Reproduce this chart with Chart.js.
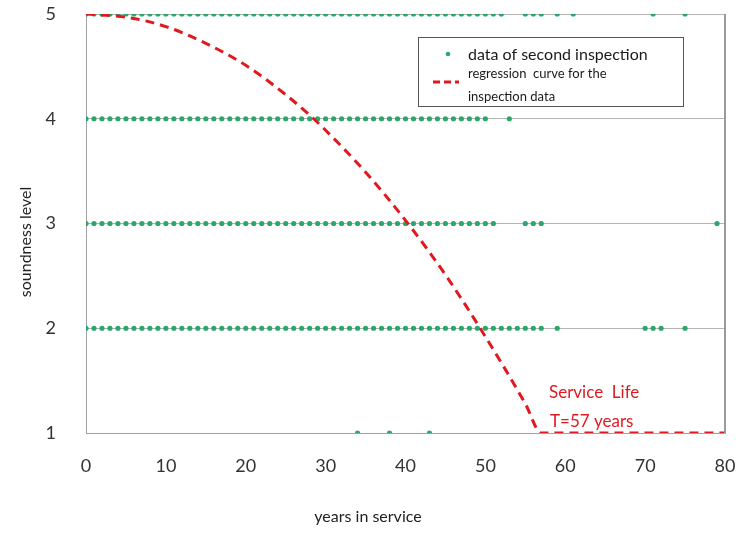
<!DOCTYPE html>
<html>
<head>
<meta charset="utf-8">
<script src="https://cdn.jsdelivr.net/npm/chart.js@4"></script>
<style>
  body { margin: 0; background: #fff; }
  #wrap { width: 741px; height: 533px; }
</style>
</head>
<body>
<div id="wrap"><canvas id="myChart"></canvas></div>
<script>
// years in service of every inspected item, grouped by soundness level
var level5Years = [0,1,2,3,4,5,6,7,8,9,10,11,12,13,14,15,16,17,18,19,20,21,22,23,24,25,26,27,28,29,30,31,32,33,34,35,36,37,38,39,40,41,42,43,44,45,46,47,48,49,50,51,52,55,56,57,59,61,71,75];
var level4Years = [0,1,2,3,4,5,6,7,8,9,10,11,12,13,14,15,16,17,18,19,20,21,22,23,24,25,26,27,28,29,30,31,32,33,34,35,36,37,38,39,40,41,42,43,44,45,46,47,48,49,50,53];
var level3Years = [0,1,2,3,4,5,6,7,8,9,10,11,12,13,14,15,16,17,18,19,20,21,22,23,24,25,26,27,28,29,30,31,32,33,34,35,36,37,38,39,40,41,42,43,44,45,46,47,48,49,50,51,55,56,57,79];
var level2Years = [0,1,2,3,4,5,6,7,8,9,10,11,12,13,14,15,16,17,18,19,20,21,22,23,24,25,26,27,28,29,30,31,32,33,34,35,36,37,38,39,40,41,42,43,44,45,46,47,48,49,50,51,52,53,54,55,56,57,59,70,71,72,75];
var level1Years = [34,38,43];

// regression curve
var curveYears = [0,5,10,15,20,25,28.5,30,35,40,45,50,55,57,60,70,80];
var curveLevels = [5,4.97,4.88,4.72,4.51,4.23,4,3.89,3.49,3.03,2.51,1.92,1.28,1,1,1,1];

var xTicks = [0,10,20,30,40,50,60,70,80];
var yTicks = [1,2,3,4,5];

var points = [];
[[5, level5Years], [4, level4Years], [3, level3Years], [2, level2Years], [1, level1Years]].forEach(function (g) {
  g[1].forEach(function (yr) { points.push({ x: yr, y: g[0] }); });
});
var curve = curveYears.map(function (yr, i) { return { x: yr, y: curveLevels[i] }; });

var font = 'Lato, "Open Sans", sans-serif';

var extras = {
  id: 'extras',
  afterDraw: function (chart) {
    var ctx = chart.ctx, a = chart.chartArea;
    ctx.save();
    // right border
    ctx.strokeStyle = '#9a9a9a';
    ctx.lineWidth = 2;
    ctx.beginPath();
    ctx.moveTo(a.right, a.top);
    ctx.lineTo(a.right, a.bottom);
    ctx.stroke();

    // axis titles
    ctx.fillStyle = '#222';
    ctx.font = '16px ' + font;
    ctx.textAlign = 'center';
    ctx.textBaseline = 'middle';
    ctx.fillText('years in service', 368, 517);
    ctx.save();
    ctx.translate(26, 242);
    ctx.rotate(-Math.PI / 2);
    ctx.fillText('soundness level', 0, 0);
    ctx.restore();

    // legend
    ctx.fillStyle = '#fff';
    ctx.fillRect(418, 37, 265, 69);
    ctx.strokeStyle = '#555';
    ctx.lineWidth = 1;
    ctx.strokeRect(418.5, 37.5, 265, 69);
    ctx.fillStyle = '#2aa86a';
    ctx.beginPath();
    ctx.arc(448, 54, 2.3, 0, Math.PI * 2);
    ctx.fill();
    ctx.strokeStyle = '#e0191f';
    ctx.lineWidth = 3;
    ctx.setLineDash([7, 4]);
    ctx.beginPath();
    ctx.moveTo(433, 82);
    ctx.lineTo(459, 82);
    ctx.stroke();
    ctx.setLineDash([]);
    ctx.textAlign = 'left';
    ctx.fillStyle = '#1a1a1a';
    ctx.font = '16px ' + font;
    ctx.fillText('data of second inspection', 468, 55);
    ctx.font = '13px ' + font;
    ctx.fillText('regression  curve for the', 468, 74);
    ctx.fillText('inspection data', 468, 97);

    // service life note
    ctx.fillStyle = '#e0191f';
    ctx.font = '17px ' + font;
    ctx.fillText('Service  Life', 549, 393);
    ctx.fillText('T=57 years', 550, 422);
    ctx.restore();
  }
};

function noOverhang(s) {
  s.paddingTop = 0; s.paddingBottom = 0; s.paddingLeft = 0; s.paddingRight = 0;
}

new Chart('myChart', {
  type: 'scatter',
  data: {
    datasets: [{
      type: 'line',
      label: 'regression curve for the inspection data',
      data: curve,
      borderColor: '#e0191f',
      borderWidth: 3,
      borderDash: [9, 6],
      pointRadius: 0,
      fill: false,
      cubicInterpolationMode: 'monotone',
      order: 0
    }, {
      label: 'data of second inspection',
      data: points,
      backgroundColor: '#2aa86a',
      borderWidth: 0,
      pointRadius: 2.6,
      order: 1
    }]
  },
  plugins: [extras],
  options: {
    responsive: true,
    maintainAspectRatio: false,
    animation: false,
    layout: { padding: { left: 0, right: 16, top: 14, bottom: 0 } },
    plugins: { legend: { display: false }, tooltip: { enabled: false } },
    scales: {
      x: {
        type: 'linear',
        min: 0,
        max: 80,
        afterBuildTicks: function (s) { s.ticks = xTicks.map(function (v) { return { value: v }; }); },
        afterFit: function (s) { s.height = 100; noOverhang(s); },
        grid: { display: false, drawTicks: false },
        border: { display: true, color: '#a0a0a0', width: 1 },
        ticks: { padding: 22, color: '#333', font: { family: font, size: 18 } }
      },
      y: {
        min: 1,
        max: 5,
        afterBuildTicks: function (s) { s.ticks = yTicks.map(function (v) { return { value: v }; }); },
        afterFit: function (s) { s.width = 86; noOverhang(s); },
        grid: { color: '#b4b4b4', drawTicks: false },
        border: { display: true, color: '#a0a0a0', width: 1 },
        ticks: { padding: 30, color: '#333', font: { family: font, size: 18 } }
      }
    }
  }
});
</script>
</body>
</html>
